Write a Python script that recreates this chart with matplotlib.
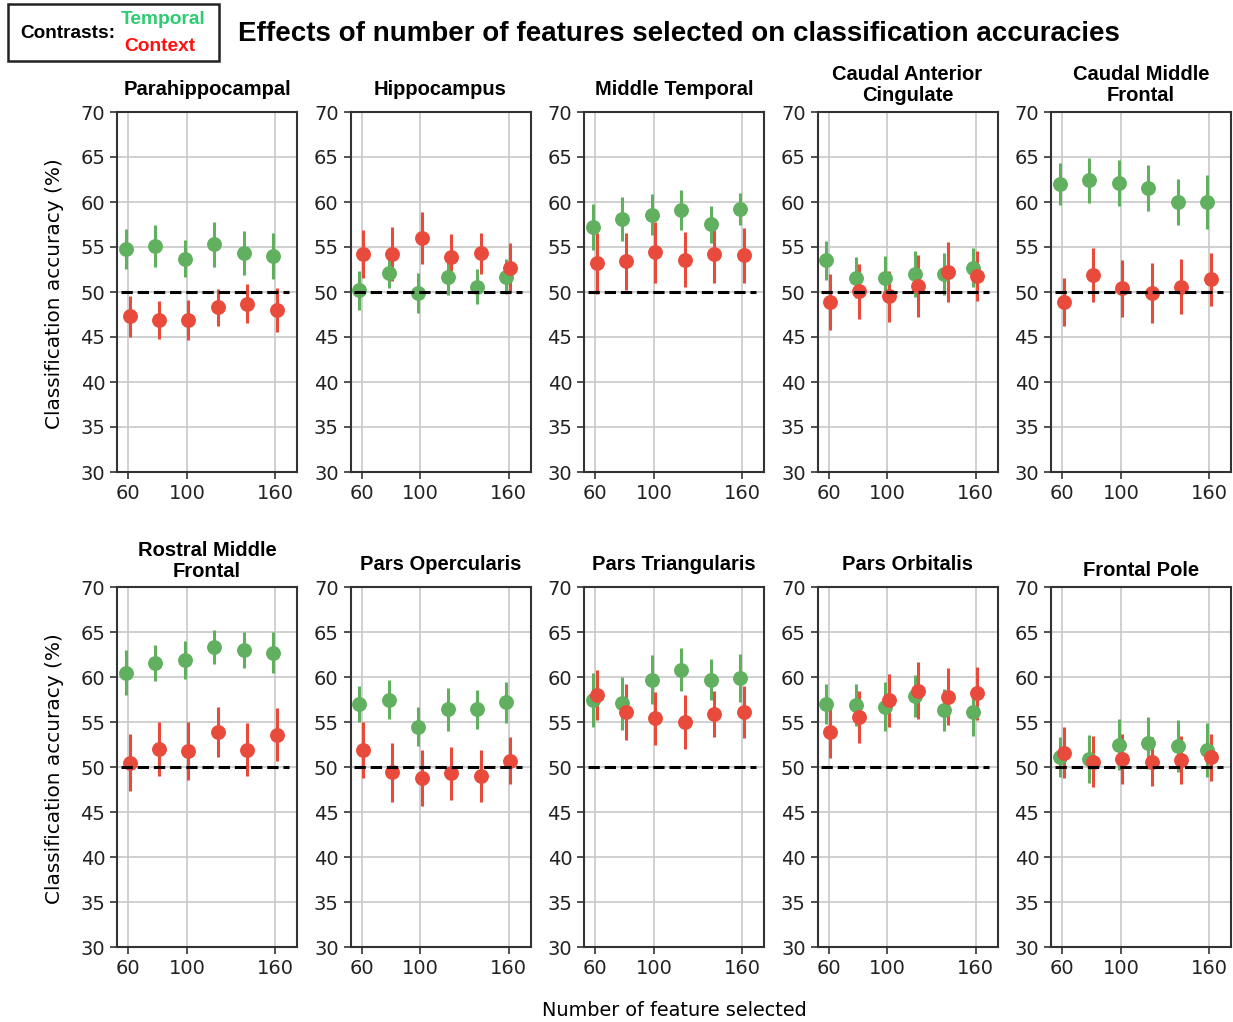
import numpy as np
import matplotlib.pyplot as plt
from matplotlib.patches import Rectangle

# Data
n_features = [60, 80, 100, 120, 140, 160]
regions = ['Parahippocampal', 'Hippocampus', 'Middle Temporal',
           'Caudal Anterior\nCingulate', 'Caudal Middle\nFrontal',
           'Rostral Middle\nFrontal', 'Pars Opercularis', 'Pars Triangularis',
           'Pars Orbitalis', 'Frontal Pole']

temporal_acc = [
    [54.8, 55.1, 53.7, 55.3, 54.3, 54.0],
    [50.2, 52.1, 49.9, 51.7, 50.6, 51.7],
    [57.2, 58.1, 58.6, 59.1, 57.5, 59.2],
    [53.5, 51.6, 51.6, 52.0, 52.0, 52.7],
    [62.0, 62.4, 62.1, 61.6, 60.0, 60.0],
    [60.5, 61.6, 61.9, 63.3, 63.0, 62.7],
    [57.0, 57.5, 54.5, 56.4, 56.4, 57.2],
    [57.5, 57.1, 59.7, 60.8, 59.7, 59.9],
    [57.0, 56.9, 56.7, 57.9, 56.3, 56.1],
    [51.1, 50.9, 52.5, 52.7, 52.3, 51.9],
]
temporal_err = [
    [2.25, 2.3, 2.05, 2.5, 2.45, 2.55],
    [2.15, 1.7, 2.25, 2.0, 1.95, 1.95],
    [2.55, 2.4, 2.3, 2.25, 2.05, 1.75],
    [2.2, 2.3, 2.4, 2.6, 2.35, 2.2],
    [2.3, 2.5, 2.6, 2.55, 2.55, 2.95],
    [2.55, 2.0, 2.15, 1.9, 2.0, 2.25],
    [1.95, 2.2, 2.2, 2.4, 2.2, 2.3],
    [3.0, 2.95, 2.75, 2.4, 2.25, 2.65],
    [2.25, 2.3, 2.7, 2.35, 2.35, 2.7],
    [2.2, 2.7, 2.8, 2.9, 2.9, 3.0],
]
context_acc = [
    [47.3, 46.9, 46.9, 48.3, 48.7, 48.0],
    [54.2, 54.2, 56.0, 53.9, 54.3, 52.7],
    [53.2, 53.4, 54.4, 53.6, 54.2, 54.1],
    [48.9, 50.1, 49.5, 50.7, 52.2, 51.8],
    [48.9, 51.9, 50.4, 49.9, 50.6, 51.4],
    [50.5, 52.0, 51.8, 53.9, 51.9, 53.6],
    [51.9, 49.4, 48.8, 49.3, 49.0, 50.7],
    [58.0, 56.1, 55.4, 55.0, 55.9, 56.1],
    [53.9, 55.6, 57.4, 58.5, 57.8, 58.2],
    [51.6, 50.6, 50.9, 50.6, 50.8, 51.1],
]
context_err = [
    [2.25, 2.1, 2.25, 2.05, 2.2, 2.4],
    [2.7, 3.0, 2.9, 2.5, 2.25, 2.7],
    [3.4, 3.15, 3.35, 3.1, 3.25, 3.05],
    [3.1, 3.05, 2.85, 3.45, 3.35, 2.75],
    [2.7, 3.0, 3.15, 3.3, 3.05, 2.95],
    [3.15, 3.0, 3.25, 2.8, 2.95, 2.95],
    [3.1, 3.3, 3.1, 2.95, 2.9, 2.6],
    [2.8, 3.15, 2.9, 3.0, 2.55, 2.9],
    [2.85, 2.9, 2.95, 3.15, 3.15, 2.95],
    [2.85, 2.8, 2.75, 2.75, 2.65, 2.6],
]
title_pads = [12, 12, 12, 8, 8, 7, 12, 12, 12, 8]

green = '#60b060'
red = '#e84b3b'

W, H = 1233, 1022
fig = plt.figure(figsize=(W / 100, H / 100), dpi=100)

x = np.array(n_features)
for i, name in enumerate(regions):
    row, col = divmod(i, 5)
    left = 117 + col * 233.5
    top = 112 + row * 475
    ax = fig.add_axes([left / W, 1 - (top + 360) / H, 180 / W, 360 / H])

    ax.errorbar(x - 1.6, temporal_acc[i], yerr=temporal_err[i], fmt='o',
                color=green, ms=9.7, elinewidth=2.2, capsize=0, zorder=3)
    ax.errorbar(x + 1.0, context_acc[i], yerr=context_err[i], fmt='o',
                color=red, ms=9.7, elinewidth=2.2, capsize=0, zorder=3)
    ax.hlines(50, 55, 169, colors='black', linestyles='--', lw=2.2, zorder=4)

    ax.set_xlim(52.5, 174.7)
    ax.set_ylim(30, 70)
    ax.set_xticks([60, 100, 160])
    ax.set_yticks(np.arange(30, 71, 5))
    ax.grid(True, color='#c8c8c8', lw=1.2, zorder=0)
    ax.set_axisbelow(True)
    ax.tick_params(labelsize=14, colors='#222222', width=1.1, length=5)
    for s in ax.spines.values():
        s.set_color('#333333')
        s.set_linewidth(1.5)
    ax.set_title(name, fontsize=14.5, fontweight='bold',
                 family='Liberation Sans', pad=title_pads[i], linespacing=1.15)

for yc in [294, 769]:
    fig.text(55 / W, 1 - yc / H, 'Classification accuracy (%)', rotation=90,
             ha='center', va='center', fontsize=14.4)
fig.text(674 / W, 1 - 1010 / H, 'Number of feature selected',
         ha='center', va='center', fontsize=13.9)

fig.text(238 / W, 1 - 34 / H,
         'Effects of number of features selected on classification accuracies',
         ha='left', va='center', fontsize=20, fontweight='bold',
         family='Liberation Sans')

# legend box top left
fig.add_artist(Rectangle((8 / W, 1 - 61 / H), 211 / W, 57 / H, fill=False,
                         lw=1.8, edgecolor='#222222', transform=fig.transFigure))
fig.text(20 / W, 1 - 33 / H, 'Contrasts:', ha='left', va='center',
         fontsize=13.7, fontweight='bold', family='Liberation Sans')
fig.text(163 / W, 1 - 20 / H, 'Temporal', ha='center', va='center',
         fontsize=13.8, fontweight='bold', family='Liberation Sans', color='#2ecc71')
fig.text(160 / W, 1 - 46 / H, 'Context', ha='center', va='center',
         fontsize=13.8, fontweight='bold', family='Liberation Sans', color='#ff1111')

plt.savefig('out.png', dpi=100)
